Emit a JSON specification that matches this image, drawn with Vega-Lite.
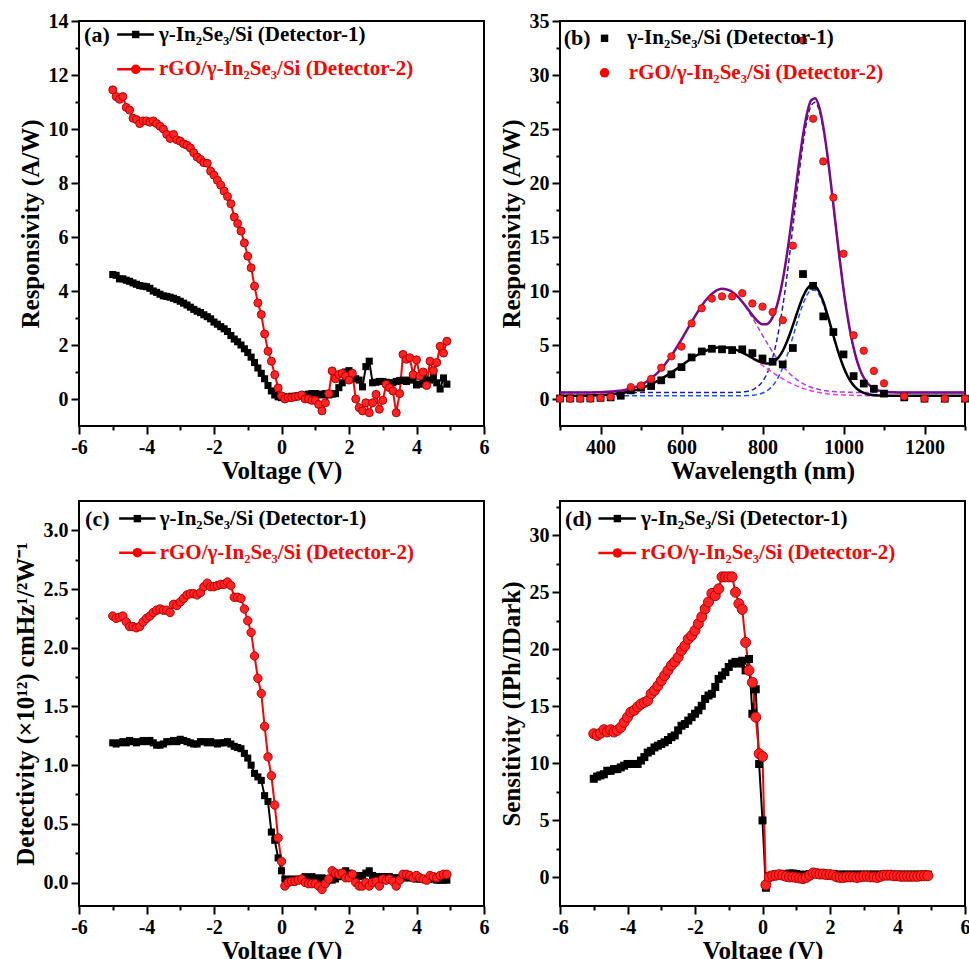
{
"$schema": "https://vega.github.io/schema/vega-lite/v6.json",
"background": "white",
"padding": {"left": 12, "top": 10, "right": 2, "bottom": 2},
"autosize": {"type": "pad"},
"bounds": "flush",
"columns": 2,
"spacing": {"row": 75, "column": 76},
"config": {
  "font": "Liberation Serif",
  "view": {"stroke": "black", "strokeWidth": 2},
  "axis": {"domain": false, "tickColor": "black", "tickWidth": 2, "tickSize": 8, "labelFont": "Liberation Serif", "labelFontSize": 20, "labelFontWeight": "bold", "labelColor": "black", "titleFont": "Liberation Serif", "titleFontSize": 25, "titleFontWeight": "bold", "titleColor": "black", "grid": false, "labelPadding": 3, "titlePadding": 5, "labelFlush": false, "labelOverlap": false},
  "axisBottom": {"titlePadding": 1},
  "style": {"guide-label": {"font": "Liberation Serif", "fontSize": 20, "fontWeight": "bold", "fill": "black"}, "guide-title": {"font": "Liberation Serif", "fontSize": 25, "fontWeight": "bold", "fill": "black"}},
  "text": {"font": "Liberation Serif", "fontWeight": "bold"}
},
"datasets": {
"v": [
{"V":-5.0,"a1":4.61,"a2":11.45,"c1":1.19,"c2":2.27,"d1":8.65,"d2":12.6},
{"V":-4.9,"a1":4.58,"a2":11.2,"c1":1.18,"c2":2.25,"d1":8.85,"d2":12.45},
{"V":-4.8,"a1":4.45,"a2":11.1,"c1":1.19,"c2":2.26,"d1":8.95,"d2":12.65},
{"V":-4.7,"a1":4.45,"a2":11.2,"c1":1.2,"c2":2.27,"d1":9.05,"d2":12.95},
{"V":-4.6,"a1":4.4,"a2":10.8,"c1":1.19,"c2":2.22,"d1":9.35,"d2":12.75},
{"V":-4.5,"a1":4.36,"a2":10.7,"c1":1.21,"c2":2.18,"d1":9.35,"d2":12.95},
{"V":-4.4,"a1":4.3,"a2":10.4,"c1":1.2,"c2":2.18,"d1":9.5,"d2":12.75},
{"V":-4.3,"a1":4.25,"a2":10.35,"c1":1.19,"c2":2.17,"d1":9.5,"d2":12.9},
{"V":-4.2,"a1":4.2,"a2":10.2,"c1":1.2,"c2":2.18,"d1":9.65,"d2":13.15},
{"V":-4.1,"a1":4.18,"a2":10.3,"c1":1.21,"c2":2.22,"d1":9.8,"d2":13.6},
{"V":-4.0,"a1":4.16,"a2":10.3,"c1":1.2,"c2":2.25,"d1":9.95,"d2":14.05},
{"V":-3.9,"a1":4.1,"a2":10.25,"c1":1.21,"c2":2.27,"d1":9.95,"d2":14.5},
{"V":-3.8,"a1":4.0,"a2":10.3,"c1":1.19,"c2":2.3,"d1":9.95,"d2":14.65},
{"V":-3.7,"a1":3.95,"a2":10.2,"c1":1.17,"c2":2.32,"d1":9.95,"d2":14.95},
{"V":-3.6,"a1":3.88,"a2":10.1,"c1":1.17,"c2":2.33,"d1":10.25,"d2":15.2},
{"V":-3.5,"a1":3.82,"a2":10.0,"c1":1.18,"c2":2.32,"d1":10.55,"d2":15.35},
{"V":-3.4,"a1":3.8,"a2":9.8,"c1":1.2,"c2":2.32,"d1":10.95,"d2":15.5},
{"V":-3.3,"a1":3.77,"a2":9.65,"c1":1.2,"c2":2.3,"d1":11.1,"d2":16.1},
{"V":-3.2,"a1":3.73,"a2":9.8,"c1":1.21,"c2":2.37,"d1":11.4,"d2":16.4},
{"V":-3.1,"a1":3.68,"a2":9.6,"c1":1.2,"c2":2.36,"d1":11.55,"d2":16.8},
{"V":-3.0,"a1":3.62,"a2":9.55,"c1":1.22,"c2":2.39,"d1":11.7,"d2":17.25},
{"V":-2.9,"a1":3.55,"a2":9.45,"c1":1.21,"c2":2.42,"d1":11.85,"d2":17.7},
{"V":-2.8,"a1":3.48,"a2":9.4,"c1":1.2,"c2":2.45,"d1":12.05,"d2":18.15},
{"V":-2.7,"a1":3.4,"a2":9.3,"c1":1.19,"c2":2.46,"d1":12.3,"d2":18.6},
{"V":-2.6,"a1":3.32,"a2":9.12,"c1":1.18,"c2":2.46,"d1":12.45,"d2":18.9},
{"V":-2.5,"a1":3.25,"a2":8.96,"c1":1.18,"c2":2.45,"d1":12.9,"d2":19.3},
{"V":-2.4,"a1":3.2,"a2":8.87,"c1":1.2,"c2":2.47,"d1":13.3,"d2":19.9},
{"V":-2.3,"a1":3.12,"a2":8.75,"c1":1.2,"c2":2.52,"d1":13.45,"d2":20.3},
{"V":-2.2,"a1":3.05,"a2":8.73,"c1":1.19,"c2":2.55,"d1":13.75,"d2":20.9},
{"V":-2.1,"a1":2.97,"a2":8.44,"c1":1.2,"c2":2.52,"d1":14.05,"d2":21.2},
{"V":-2.0,"a1":2.85,"a2":8.29,"c1":1.19,"c2":2.52,"d1":14.35,"d2":21.65},
{"V":-1.9,"a1":2.77,"a2":8.1,"c1":1.18,"c2":2.53,"d1":14.65,"d2":22.25},
{"V":-1.8,"a1":2.68,"a2":7.92,"c1":1.19,"c2":2.54,"d1":15.05,"d2":22.85},
{"V":-1.7,"a1":2.6,"a2":7.7,"c1":1.19,"c2":2.54,"d1":15.65,"d2":23.55},
{"V":-1.6,"a1":2.5,"a2":7.5,"c1":1.2,"c2":2.56,"d1":15.95,"d2":24.15},
{"V":-1.5,"a1":2.35,"a2":7.23,"c1":1.18,"c2":2.53,"d1":16.1,"d2":24.9},
{"V":-1.4,"a1":2.22,"a2":6.74,"c1":1.16,"c2":2.43,"d1":16.7,"d2":24.7},
{"V":-1.3,"a1":2.12,"a2":6.5,"c1":1.15,"c2":2.43,"d1":17.4,"d2":25.3},
{"V":-1.2,"a1":2.0,"a2":6.22,"c1":1.14,"c2":2.42,"d1":17.7,"d2":26.35},
{"V":-1.1,"a1":1.86,"a2":5.78,"c1":1.1,"c2":2.33,"d1":18.0,"d2":26.35},
{"V":-1.0,"a1":1.72,"a2":5.29,"c1":1.06,"c2":2.23,"d1":18.45,"d2":26.35},
{"V":-0.9,"a1":1.55,"a2":4.86,"c1":1.0,"c2":2.13,"d1":18.75,"d2":26.35},
{"V":-0.8,"a1":1.35,"a2":4.18,"c1":0.93,"c2":1.93,"d1":18.9,"d2":25.0},
{"V":-0.7,"a1":1.15,"a2":3.56,"c1":0.9,"c2":1.74,"d1":18.75,"d2":24.0},
{"V":-0.6,"a1":0.95,"a2":3.13,"c1":0.87,"c2":1.61,"d1":19.0,"d2":23.5},
{"V":-0.5,"a1":0.75,"a2":2.41,"c1":0.74,"c2":1.33,"d1":18.15,"d2":20.6},
{"V":-0.4,"a1":0.5,"a2":1.77,"c1":0.69,"c2":1.07,"d1":19.15,"d2":18.15},
{"V":-0.3,"a1":0.3,"a2":1.4,"c1":0.43,"c2":0.91,"d1":14.35,"d2":17.1},
{"V":-0.2,"a1":0.15,"a2":0.9,"c1":0.36,"c2":0.66,"d1":16.5,"d2":14.05},
{"V":-0.1,"a1":0.08,"a2":0.41,"c1":0.21,"c2":0.38,"d1":9.95,"d2":10.85},
{"V":0.0,"a1":0.05,"a2":0.12,"c1":0.1,"c2":0.18,"d1":5.0,"d2":10.6},
{"V":0.1,"a1":0.05,"a2":0.0,"c1":0.03,"c2":-0.03,"d1":-0.9,"d2":-0.65},
{"V":0.2,"a1":0.08,"a2":0.05,"c1":0.02,"c2":0.0,"d1":0.1,"d2":0.05},
{"V":0.3,"a1":0.1,"a2":0.05,"c1":0.03,"c2":0.01,"d1":0.2,"d2":0.15},
{"V":0.4,"a1":0.1,"a2":0.08,"c1":0.02,"c2":0.01,"d1":0.25,"d2":0.2},
{"V":0.5,"a1":0.12,"a2":0.1,"c1":0.03,"c2":0.02,"d1":0.3,"d2":0.25},
{"V":0.6,"a1":0.12,"a2":0.15,"c1":0.02,"c2":0.03,"d1":0.3,"d2":0.2},
{"V":0.7,"a1":0.15,"a2":0.0,"c1":0.05,"c2":0.0,"d1":0.3,"d2":0.1},
{"V":0.8,"a1":0.18,"a2":0.0,"c1":0.04,"c2":-0.01,"d1":0.35,"d2":0.05},
{"V":0.9,"a1":0.2,"a2":-0.05,"c1":0.05,"c2":-0.01,"d1":0.35,"d2":0.05},
{"V":1.0,"a1":0.2,"a2":-0.05,"c1":0.04,"c2":-0.01,"d1":0.3,"d2":0.0},
{"V":1.1,"a1":0.18,"a2":-0.2,"c1":0.03,"c2":-0.03,"d1":0.25,"d2":-0.05},
{"V":1.2,"a1":0.15,"a2":-0.44,"c1":0.04,"c2":-0.06,"d1":0.2,"d2":-0.1},
{"V":1.3,"a1":0.2,"a2":-0.14,"c1":0.03,"c2":-0.01,"d1":0.25,"d2":0.0},
{"V":1.4,"a1":0.15,"a2":0.2,"c1":0.03,"c2":0.03,"d1":0.3,"d2":0.2},
{"V":1.5,"a1":0.18,"a2":1.04,"c1":0.02,"c2":0.1,"d1":0.3,"d2":0.4},
{"V":1.6,"a1":0.2,"a2":0.75,"c1":0.03,"c2":0.08,"d1":0.3,"d2":0.35},
{"V":1.7,"a1":0.42,"a2":0.91,"c1":0.05,"c2":0.07,"d1":0.3,"d2":0.3},
{"V":1.8,"a1":0.6,"a2":0.95,"c1":0.08,"c2":0.08,"d1":0.3,"d2":0.3},
{"V":1.9,"a1":1.0,"a2":0.85,"c1":0.1,"c2":0.04,"d1":0.3,"d2":0.25},
{"V":2.0,"a1":1.05,"a2":0.7,"c1":0.08,"c2":0.04,"d1":0.3,"d2":0.25},
{"V":2.1,"a1":0.9,"a2":0.95,"c1":0.07,"c2":0.07,"d1":0.3,"d2":0.2},
{"V":2.2,"a1":0.75,"a2":0.0,"c1":0.06,"c2":0.0,"d1":0.25,"d2":0.05},
{"V":2.3,"a1":0.7,"a2":-0.32,"c1":0.05,"c2":-0.03,"d1":0.25,"d2":0.0},
{"V":2.4,"a1":0.45,"a2":-0.44,"c1":0.06,"c2":-0.03,"d1":0.25,"d2":0.0},
{"V":2.5,"a1":1.2,"a2":-0.14,"c1":0.08,"c2":0.0,"d1":0.25,"d2":0.05},
{"V":2.6,"a1":1.4,"a2":-0.51,"c1":0.1,"c2":-0.03,"d1":0.25,"d2":0.05},
{"V":2.7,"a1":0.6,"a2":-0.14,"c1":0.06,"c2":0.0,"d1":0.25,"d2":0.05},
{"V":2.8,"a1":0.62,"a2":0.17,"c1":0.05,"c2":0.01,"d1":0.25,"d2":0.0},
{"V":2.9,"a1":0.65,"a2":-0.38,"c1":0.05,"c2":-0.03,"d1":0.25,"d2":0.05},
{"V":3.0,"a1":0.65,"a2":-0.05,"c1":0.05,"c2":0.03,"d1":0.25,"d2":0.1},
{"V":3.1,"a1":0.62,"a2":0.54,"c1":0.05,"c2":0.02,"d1":0.25,"d2":0.1},
{"V":3.2,"a1":0.6,"a2":0.42,"c1":0.05,"c2":0.03,"d1":0.25,"d2":0.05},
{"V":3.3,"a1":0.6,"a2":0.3,"c1":0.04,"c2":0.01,"d1":0.25,"d2":0.05},
{"V":3.4,"a1":0.65,"a2":-0.51,"c1":0.04,"c2":-0.03,"d1":0.25,"d2":0.0},
{"V":3.5,"a1":0.68,"a2":0.2,"c1":0.04,"c2":0.02,"d1":0.25,"d2":0.1},
{"V":3.6,"a1":0.7,"a2":1.65,"c1":0.04,"c2":0.07,"d1":0.25,"d2":0.2},
{"V":3.7,"a1":0.65,"a2":1.47,"c1":0.04,"c2":0.07,"d1":0.25,"d2":0.2},
{"V":3.8,"a1":0.7,"a2":1.53,"c1":0.04,"c2":0.06,"d1":0.25,"d2":0.2},
{"V":3.9,"a1":0.72,"a2":0.9,"c1":0.04,"c2":0.04,"d1":0.25,"d2":0.15},
{"V":4.0,"a1":0.52,"a2":1.45,"c1":0.03,"c2":0.06,"d1":0.25,"d2":0.15},
{"V":4.1,"a1":0.55,"a2":0.85,"c1":0.03,"c2":0.04,"d1":0.25,"d2":0.1},
{"V":4.2,"a1":0.78,"a2":1.0,"c1":0.03,"c2":0.03,"d1":0.25,"d2":0.1},
{"V":4.3,"a1":0.65,"a2":0.5,"c1":0.03,"c2":0.02,"d1":0.25,"d2":0.1},
{"V":4.4,"a1":0.7,"a2":1.4,"c1":0.03,"c2":0.06,"d1":0.25,"d2":0.1},
{"V":4.5,"a1":0.8,"a2":1.05,"c1":0.03,"c2":0.05,"d1":0.25,"d2":0.1},
{"V":4.6,"a1":0.6,"a2":1.35,"c1":0.02,"c2":0.04,"d1":0.25,"d2":0.1},
{"V":4.7,"a1":0.37,"a2":1.95,"c1":0.02,"c2":0.06,"d1":0.25,"d2":0.15},
{"V":4.8,"a1":0.78,"a2":1.7,"c1":0.02,"c2":0.07,"d1":0.25,"d2":0.15},
{"V":4.9,"a1":0.55,"a2":2.14,"c1":0.02,"c2":0.07,"d1":0.25,"d2":0.15}
],
"b": [
{"nm":300,"r":0.03,"k":0.05},{"nm":325,"r":0.03,"k":0.05},{"nm":350,"r":0.03,"k":0.05},{"nm":375,"r":0.05,"k":0.05},
{"nm":400,"r":0.1,"k":0.1},{"nm":425,"r":0.2,"k":0.15},{"nm":450,"r":null,"k":0.3},{"nm":475,"r":1.1,"k":0.8},
{"nm":500,"r":1.25,"k":1.05},{"nm":525,"r":1.85,"k":1.2},{"nm":550,"r":2.9,"k":1.73},{"nm":575,"r":3.95,"k":2.28},
{"nm":600,"r":4.85,"k":2.95},{"nm":625,"r":7.0,"k":3.85},{"nm":650,"r":8.4,"k":4.4},{"nm":675,"r":9.3,"k":4.65},
{"nm":700,"r":9.5,"k":4.6},{"nm":725,"r":9.5,"k":4.53},{"nm":750,"r":9.8,"k":4.6},{"nm":775,"r":8.85,"k":4.25},
{"nm":800,"r":8.55,"k":3.75},{"nm":825,"r":8.05,"k":3.45},{"nm":850,"r":7.3,"k":3.2},{"nm":875,"r":14.2,"k":4.72},
{"nm":900,"r":33.2,"k":11.57},{"nm":925,"r":25.95,"k":10.48},{"nm":950,"r":22.0,"k":7.65},{"nm":975,"r":18.65,"k":6.2},
{"nm":1000,"r":13.45,"k":4.13},{"nm":1025,"r":5.9,"k":2.12},{"nm":1050,"r":4.47,"k":1.43},{"nm":1075,"r":2.59,"k":0.95},
{"nm":1100,"r":1.45,"k":0.5},{"nm":1150,"r":0.25,"k":0.15},{"nm":1200,"r":0.05,"k":0.03},{"nm":1250,"r":0.05,"k":0.03},{"nm":1300,"r":0.05,"k":0.03}
],
"fit": [
{"x":300,"fr":0.60,"fb":0.30,"d1r":0.60,"d2r":0.60,"d1b":0.30,"d2b":0.30},
{"x":350,"fr":0.60,"fb":0.31,"d1r":0.60,"d2r":0.60,"d1b":0.31,"d2b":0.30},
{"x":400,"fr":0.63,"fb":0.37,"d1r":0.63,"d2r":0.60,"d1b":0.37,"d2b":0.30},
{"x":430,"fr":0.69,"fb":0.45,"d1r":0.69,"d2r":0.60,"d1b":0.45,"d2b":0.30},
{"x":460,"fr":0.83,"fb":0.60,"d1r":0.83,"d2r":0.60,"d1b":0.60,"d2b":0.30},
{"x":480,"fr":1.02,"fb":0.76,"d1r":1.02,"d2r":0.60,"d1b":0.76,"d2b":0.30},
{"x":500,"fr":1.31,"fb":0.98,"d1r":1.31,"d2r":0.60,"d1b":0.98,"d2b":0.30},
{"x":520,"fr":1.76,"fb":1.28,"d1r":1.76,"d2r":0.60,"d1b":1.28,"d2b":0.30},
{"x":540,"fr":2.39,"fb":1.65,"d1r":2.39,"d2r":0.60,"d1b":1.65,"d2b":0.30},
{"x":560,"fr":3.24,"fb":2.09,"d1r":3.24,"d2r":0.60,"d1b":2.09,"d2b":0.30},
{"x":580,"fr":4.29,"fb":2.58,"d1r":4.29,"d2r":0.60,"d1b":2.58,"d2b":0.30},
{"x":600,"fr":5.51,"fb":3.11,"d1r":5.51,"d2r":0.60,"d1b":3.11,"d2b":0.30},
{"x":620,"fr":6.81,"fb":3.63,"d1r":6.81,"d2r":0.60,"d1b":3.63,"d2b":0.30},
{"x":640,"fr":8.07,"fb":4.10,"d1r":8.07,"d2r":0.60,"d1b":4.10,"d2b":0.30},
{"x":660,"fr":9.14,"fb":4.47,"d1r":9.14,"d2r":0.60,"d1b":4.47,"d2b":0.30},
{"x":680,"fr":9.89,"fb":4.72,"d1r":9.89,"d2r":0.60,"d1b":4.72,"d2b":0.30},
{"x":700,"fr":10.20,"fb":4.80,"d1r":10.19,"d2r":0.60,"d1b":4.80,"d2b":0.30},
{"x":720,"fr":10.03,"fb":4.72,"d1r":10.03,"d2r":0.61,"d1b":4.72,"d2b":0.30},
{"x":740,"fr":9.43,"fb":4.48,"d1r":9.41,"d2r":0.62,"d1b":4.47,"d2b":0.30},
{"x":760,"fr":8.52,"fb":4.11,"d1r":8.42,"d2r":0.70,"d1b":4.10,"d2b":0.32},
{"x":780,"fr":7.54,"fb":3.70,"d1r":7.20,"d2r":0.94,"d1b":3.63,"d2b":0.37},
{"x":800,"fr":6.92,"fb":3.35,"d1r":5.90,"d2r":1.62,"d1b":3.11,"d2b":0.55},
{"x":810,"fr":6.92,"fb":3.28,"d1r":5.26,"d2r":2.26,"d1b":2.84,"d2b":0.73},
{"x":820,"fr":7.25,"fb":3.31,"d1r":4.65,"d2r":3.21,"d1b":2.58,"d2b":1.03},
{"x":830,"fr":8.01,"fb":3.50,"d1r":4.07,"d2r":4.54,"d1b":2.33,"d2b":1.47},
{"x":840,"fr":9.25,"fb":3.87,"d1r":3.54,"d2r":6.32,"d1b":2.09,"d2b":2.09},
{"x":850,"fr":11.02,"fb":4.46,"d1r":3.05,"d2r":8.57,"d1b":1.86,"d2b":2.91},
{"x":860,"fr":13.30,"fb":5.27,"d1r":2.63,"d2r":11.27,"d1b":1.65,"d2b":3.93},
{"x":870,"fr":15.98,"fb":6.27,"d1r":2.25,"d2r":14.33,"d1b":1.45,"d2b":5.12},
{"x":880,"fr":18.90,"fb":7.38,"d1r":1.93,"d2r":17.57,"d1b":1.28,"d2b":6.40},
{"x":890,"fr":21.81,"fb":8.49,"d1r":1.66,"d2r":20.75,"d1b":1.12,"d2b":7.67},
{"x":900,"fr":24.43,"fb":9.47,"d1r":1.43,"d2r":23.60,"d1b":0.98,"d2b":8.79},
{"x":910,"fr":26.45,"fb":10.19,"d1r":1.24,"d2r":25.81,"d1b":0.86,"d2b":9.63},
{"x":920,"fr":27.65,"fb":10.54,"d1r":1.09,"d2r":27.16,"d1b":0.76,"d2b":10.08},
{"x":930,"fr":27.85,"fb":10.45,"d1r":0.97,"d2r":27.48,"d1b":0.67,"d2b":10.08},
{"x":940,"fr":27.02,"fb":9.93,"d1r":0.88,"d2r":26.74,"d1b":0.60,"d2b":9.63},
{"x":950,"fr":25.22,"fb":9.03,"d1r":0.80,"d2r":25.02,"d1b":0.54,"d2b":8.79},
{"x":960,"fr":22.67,"fb":7.85,"d1r":0.75,"d2r":22.52,"d1b":0.49,"d2b":7.67},
{"x":970,"fr":19.61,"fb":6.54,"d1r":0.71,"d2r":19.50,"d1b":0.45,"d2b":6.40},
{"x":980,"fr":16.34,"fb":5.23,"d1r":0.68,"d2r":16.26,"d1b":0.41,"d2b":5.12},
{"x":990,"fr":13.12,"fb":4.01,"d1r":0.65,"d2r":13.07,"d1b":0.39,"d2b":3.93},
{"x":1000,"fr":10.18,"fb":2.97,"d1r":0.64,"d2r":10.14,"d1b":0.37,"d2b":2.91},
{"x":1010,"fr":7.64,"fb":2.13,"d1r":0.63,"d2r":7.61,"d1b":0.35,"d2b":2.09},
{"x":1020,"fr":5.57,"fb":1.50,"d1r":0.62,"d2r":5.55,"d1b":0.34,"d2b":1.47},
{"x":1030,"fr":3.97,"fb":1.05,"d1r":0.61,"d2r":3.96,"d1b":0.33,"d2b":1.03},
{"x":1040,"fr":2.79,"fb":0.75,"d1r":0.61,"d2r":2.79,"d1b":0.32,"d2b":0.73},
{"x":1050,"fr":1.98,"fb":0.56,"d1r":0.61,"d2r":1.97,"d1b":0.31,"d2b":0.55},
{"x":1060,"fr":1.43,"fb":0.44,"d1r":0.60,"d2r":1.43,"d1b":0.31,"d2b":0.43},
{"x":1070,"fr":1.08,"fb":0.38,"d1r":0.60,"d2r":1.08,"d1b":0.31,"d2b":0.37},
{"x":1080,"fr":0.87,"fb":0.34,"d1r":0.60,"d2r":0.87,"d1b":0.30,"d2b":0.33},
{"x":1100,"fr":0.67,"fb":0.31,"d1r":0.60,"d2r":0.67,"d1b":0.30,"d2b":0.31},
{"x":1120,"fr":0.62,"fb":0.30,"d1r":0.60,"d2r":0.62,"d1b":0.30,"d2b":0.30},
{"x":1150,"fr":0.60,"fb":0.30,"d1r":0.60,"d2r":0.60,"d1b":0.30,"d2b":0.30},
{"x":1200,"fr":0.60,"fb":0.30,"d1r":0.60,"d2r":0.60,"d1b":0.30,"d2b":0.30},
{"x":1300,"fr":0.60,"fb":0.30,"d1r":0.60,"d2r":0.60,"d1b":0.30,"d2b":0.30}
]
},
"concat": [
{
 "width": 405, "height": 405,
 "data": {"name": "v"},
 "resolve": {"axis": {"x": "independent", "y": "independent"}},
 "layer": [
  {"mark": {"type": "line", "color": "black", "strokeWidth": 2},
   "encoding": {
    "x": {"field": "V", "type": "quantitative", "scale": {"domain": [-6, 6], "nice": false, "zero": false}, "axis": {"orient": "bottom", "values": [-6,-4,-2,0,2,4,6], "labelExpr": "replace(datum.label, '−', '-')", "labelFont": "Liberation Serif", "labelFontSize": 20, "labelFontWeight": "bold", "labelColor": "black", "title": "Voltage (V)"}},
    "y": {"field": "a1", "type": "quantitative", "scale": {"domain": [-1, 14], "nice": false, "zero": false}, "axis": {"orient": "left", "values": [0,2,4,6,8,10,12,14], "labelFont": "Liberation Serif", "labelFontSize": 20, "labelFontWeight": "bold", "labelColor": "black", "title": "Responsivity (A/W)"}}}},
  {"mark": {"type": "line", "color": "#ff0000", "strokeWidth": 2},
   "encoding": {
    "x": {"field": "V", "type": "quantitative", "axis": {"orient": "bottom", "values": [-5,-3,-1,1,3,5], "labels": false, "tickSize": 4, "title": null}},
    "y": {"field": "a2", "type": "quantitative", "axis": {"orient": "left", "values": [1,3,5,7,9,11,13], "labels": false, "tickSize": 4, "title": null}}}},
  {"mark": {"type": "point", "shape": "square", "filled": true, "color": "black", "size": 50, "opacity": 1},
   "encoding": {"x": {"field": "V", "type": "quantitative", "axis": null}, "y": {"field": "a1", "type": "quantitative", "axis": null}}},
  {"mark": {"type": "point", "shape": "circle", "filled": true, "fill": "#ff2424", "stroke": "#b80000", "strokeWidth": 1, "size": 64, "opacity": 1},
   "encoding": {"x": {"field": "V", "type": "quantitative", "axis": null}, "y": {"field": "a2", "type": "quantitative", "axis": null}}},
  {"data": {"values": [{"x1": -4.87, "x2": -3.78, "y": 13.5, "s": "k"}, {"x1": -4.87, "x2": -3.78, "y": 12.21, "s": "r"}]},
   "mark": {"type": "rule", "strokeWidth": 2.5},
   "encoding": {"x": {"field": "x1", "type": "quantitative", "axis": null}, "x2": {"field": "x2"}, "y": {"field": "y", "type": "quantitative", "axis": null},
    "color": {"field": "s", "type": "nominal", "scale": {"domain": ["k", "r"], "range": ["black", "#ff0000"]}, "legend": null}}},
  {"data": {"values": [{"x": -4.32, "y": 13.5, "s": "k"}, {"x": -4.32, "y": 12.21, "s": "r"}]},
   "mark": {"type": "point", "filled": true, "opacity": 1},
   "encoding": {"x": {"field": "x", "type": "quantitative", "axis": null}, "y": {"field": "y", "type": "quantitative", "axis": null},
    "color": {"field": "s", "type": "nominal", "scale": {"domain": ["k", "r"], "range": ["black", "#ff0000"]}, "legend": null},
    "shape": {"field": "s", "type": "nominal", "scale": {"domain": ["k", "r"], "range": ["square", "circle"]}, "legend": null},
    "size": {"field": "s", "type": "nominal", "scale": {"domain": ["k", "r"], "range": [55, 90]}, "legend": null}}},
  {"data": {"values": [{"x": -3.63, "y": 13.5, "s": "k", "t": "γ-In₂Se₃/Si (Detector-1)"}, {"x": -3.63, "y": 12.21, "s": "r", "t": "rGO/γ-In₂Se₃/Si (Detector-2)"}]},
   "mark": {"type": "text", "align": "left", "baseline": "middle", "fontSize": 21, "fontWeight": "bold"},
   "encoding": {"x": {"field": "x", "type": "quantitative", "axis": null}, "y": {"field": "y", "type": "quantitative", "axis": null}, "text": {"field": "t"},
    "color": {"field": "s", "type": "nominal", "scale": {"domain": ["k", "r"], "range": ["black", "#ff0000"]}, "legend": null}}},
  {"data": {"values": [{"x": -5.85, "y": 13.5, "t": "(a)"}]},
   "mark": {"type": "text", "align": "left", "baseline": "middle", "fontSize": 22, "fontWeight": "bold", "color": "black"},
   "encoding": {"x": {"field": "x", "type": "quantitative", "axis": null}, "y": {"field": "y", "type": "quantitative", "axis": null}, "text": {"field": "t"}}}
 ]
},
{
 "width": 405, "height": 405,
 "data": {"name": "fit"},
 "resolve": {"axis": {"x": "independent", "y": "independent"}},
 "layer": [
  {"mark": {"type": "line", "color": "#a040ff", "strokeWidth": 1.5, "strokeDash": [5, 3], "interpolate": "monotone"},
   "encoding": {
    "x": {"field": "x", "type": "quantitative", "scale": {"domain": [300, 1300], "nice": false, "zero": false}, "axis": {"orient": "bottom", "values": [400,600,800,1000,1200], "format": "d", "labelFont": "Liberation Serif", "labelFontSize": 20, "labelFontWeight": "bold", "labelColor": "black", "title": "Wavelength (nm)"}},
    "y": {"field": "d1r", "type": "quantitative", "scale": {"domain": [-2.5, 35], "nice": false, "zero": false}, "axis": {"orient": "left", "values": [0,5,10,15,20,25,30,35], "labelFont": "Liberation Serif", "labelFontSize": 20, "labelFontWeight": "bold", "labelColor": "black", "title": "Responsivity (A/W)"}}}},
  {"mark": {"type": "line", "color": "#2020a8", "strokeWidth": 1.5, "strokeDash": [5, 3], "interpolate": "monotone"},
   "encoding": {
    "x": {"field": "x", "type": "quantitative", "axis": {"orient": "bottom", "values": [300,500,700,900,1100,1300], "labels": false, "tickSize": 4, "title": null}},
    "y": {"field": "d2r", "type": "quantitative", "axis": {"orient": "left", "values": [2.5,7.5,12.5,17.5,22.5,27.5,32.5], "labels": false, "tickSize": 4, "title": null}}}},
  {"mark": {"type": "line", "color": "#ff30ff", "strokeWidth": 1.5, "strokeDash": [5, 3], "interpolate": "monotone"},
   "encoding": {"x": {"field": "x", "type": "quantitative", "axis": null}, "y": {"field": "d1b", "type": "quantitative", "axis": null}}},
  {"mark": {"type": "line", "color": "#2050ff", "strokeWidth": 1.5, "strokeDash": [5, 3], "interpolate": "monotone"},
   "encoding": {"x": {"field": "x", "type": "quantitative", "axis": null}, "y": {"field": "d2b", "type": "quantitative", "axis": null}}},
  {"mark": {"type": "line", "color": "black", "strokeWidth": 2.5, "interpolate": "monotone"},
   "encoding": {"x": {"field": "x", "type": "quantitative", "axis": null}, "y": {"field": "fb", "type": "quantitative", "axis": null}}},
  {"mark": {"type": "line", "color": "#7a0a8a", "strokeWidth": 2.5, "interpolate": "monotone"},
   "encoding": {"x": {"field": "x", "type": "quantitative", "axis": null}, "y": {"field": "fr", "type": "quantitative", "axis": null}}},
  {"data": {"name": "b"},
   "mark": {"type": "point", "shape": "square", "filled": true, "color": "black", "size": 60, "opacity": 1},
   "encoding": {"x": {"field": "nm", "type": "quantitative", "axis": null}, "y": {"field": "k", "type": "quantitative", "axis": null}}},
  {"data": {"name": "b"},
   "mark": {"type": "point", "shape": "circle", "filled": true, "fill": "#ff2424", "stroke": "#c00000", "strokeWidth": 0.8, "size": 55, "opacity": 1},
   "encoding": {"x": {"field": "nm", "type": "quantitative", "axis": null}, "y": {"field": "r", "type": "quantitative", "axis": null}}},
  {"data": {"values": [{"x": 410, "y": 33.4, "s": "k"}, {"x": 410, "y": 30.2, "s": "r"}]},
   "mark": {"type": "point", "filled": true, "opacity": 1},
   "encoding": {"x": {"field": "x", "type": "quantitative", "axis": null}, "y": {"field": "y", "type": "quantitative", "axis": null},
    "color": {"field": "s", "type": "nominal", "scale": {"domain": ["k", "r"], "range": ["black", "#ff0000"]}, "legend": null},
    "shape": {"field": "s", "type": "nominal", "scale": {"domain": ["k", "r"], "range": ["square", "circle"]}, "legend": null},
    "size": {"field": "s", "type": "nominal", "scale": {"domain": ["k", "r"], "range": [55, 55]}, "legend": null}}},
  {"data": {"values": [{"x": 466, "y": 33.4, "s": "k", "t": "γ-In₂Se₃/Si (Detector-1)"}, {"x": 470, "y": 30.2, "s": "r", "t": "rGO/γ-In₂Se₃/Si (Detector-2)"}]},
   "mark": {"type": "text", "align": "left", "baseline": "middle", "fontSize": 21, "fontWeight": "bold"},
   "encoding": {"x": {"field": "x", "type": "quantitative", "axis": null}, "y": {"field": "y", "type": "quantitative", "axis": null}, "text": {"field": "t"},
    "color": {"field": "s", "type": "nominal", "scale": {"domain": ["k", "r"], "range": ["black", "#ff0000"]}, "legend": null}}},
  {"data": {"values": [{"x": 309, "y": 33.4, "t": "(b)"}]},
   "mark": {"type": "text", "align": "left", "baseline": "middle", "fontSize": 22, "fontWeight": "bold", "color": "black"},
   "encoding": {"x": {"field": "x", "type": "quantitative", "axis": null}, "y": {"field": "y", "type": "quantitative", "axis": null}, "text": {"field": "t"}}}
 ]
},
{
 "width": 405, "height": 405,
 "data": {"name": "v"},
 "resolve": {"axis": {"x": "independent", "y": "independent"}},
 "layer": [
  {"mark": {"type": "line", "color": "black", "strokeWidth": 2},
   "encoding": {
    "x": {"field": "V", "type": "quantitative", "scale": {"domain": [-6, 6], "nice": false, "zero": false}, "axis": {"orient": "bottom", "values": [-6,-4,-2,0,2,4,6], "labelExpr": "replace(datum.label, '−', '-')", "labelFont": "Liberation Serif", "labelFontSize": 20, "labelFontWeight": "bold", "labelColor": "black", "title": "Voltage (V)"}},
    "y": {"field": "c1", "type": "quantitative", "scale": {"domain": [-0.2, 3.25], "nice": false, "zero": false}, "axis": {"orient": "left", "values": [0,0.5,1,1.5,2,2.5,3], "format": ".1f", "labelFont": "Liberation Serif", "labelFontSize": 20, "labelFontWeight": "bold", "labelColor": "black", "title": "Detectivity (×10¹²) cmHz¹/²W⁻¹"}}}},
  {"mark": {"type": "line", "color": "#ff0000", "strokeWidth": 2},
   "encoding": {
    "x": {"field": "V", "type": "quantitative", "axis": {"orient": "bottom", "values": [-5,-3,-1,1,3,5], "labels": false, "tickSize": 4, "title": null}},
    "y": {"field": "c2", "type": "quantitative", "axis": {"orient": "left", "values": [0.25,0.75,1.25,1.75,2.25,2.75], "labels": false, "tickSize": 4, "title": null}}}},
  {"mark": {"type": "point", "shape": "square", "filled": true, "color": "black", "size": 50, "opacity": 1},
   "encoding": {"x": {"field": "V", "type": "quantitative", "axis": null}, "y": {"field": "c1", "type": "quantitative", "axis": null}}},
  {"mark": {"type": "point", "shape": "circle", "filled": true, "fill": "#ff2424", "stroke": "#b80000", "strokeWidth": 1, "size": 70, "opacity": 1},
   "encoding": {"x": {"field": "V", "type": "quantitative", "axis": null}, "y": {"field": "c2", "type": "quantitative", "axis": null}}},
  {"data": {"values": [{"x1": -4.81, "x2": -3.73, "y": 3.1, "s": "k"}, {"x1": -4.81, "x2": -3.73, "y": 2.81, "s": "r"}]},
   "mark": {"type": "rule", "strokeWidth": 2.5},
   "encoding": {"x": {"field": "x1", "type": "quantitative", "axis": null}, "x2": {"field": "x2"}, "y": {"field": "y", "type": "quantitative", "axis": null},
    "color": {"field": "s", "type": "nominal", "scale": {"domain": ["k", "r"], "range": ["black", "#ff0000"]}, "legend": null}}},
  {"data": {"values": [{"x": -4.27, "y": 3.1, "s": "k"}, {"x": -4.27, "y": 2.81, "s": "r"}]},
   "mark": {"type": "point", "filled": true, "opacity": 1},
   "encoding": {"x": {"field": "x", "type": "quantitative", "axis": null}, "y": {"field": "y", "type": "quantitative", "axis": null},
    "color": {"field": "s", "type": "nominal", "scale": {"domain": ["k", "r"], "range": ["black", "#ff0000"]}, "legend": null},
    "shape": {"field": "s", "type": "nominal", "scale": {"domain": ["k", "r"], "range": ["square", "circle"]}, "legend": null},
    "size": {"field": "s", "type": "nominal", "scale": {"domain": ["k", "r"], "range": [55, 100]}, "legend": null}}},
  {"data": {"values": [{"x": -3.61, "y": 3.1, "s": "k", "t": "γ-In₂Se₃/Si (Detector-1)"}, {"x": -3.61, "y": 2.81, "s": "r", "t": "rGO/γ-In₂Se₃/Si (Detector-2)"}]},
   "mark": {"type": "text", "align": "left", "baseline": "middle", "fontSize": 21, "fontWeight": "bold"},
   "encoding": {"x": {"field": "x", "type": "quantitative", "axis": null}, "y": {"field": "y", "type": "quantitative", "axis": null}, "text": {"field": "t"},
    "color": {"field": "s", "type": "nominal", "scale": {"domain": ["k", "r"], "range": ["black", "#ff0000"]}, "legend": null}}},
  {"data": {"values": [{"x": -5.82, "y": 3.1, "t": "(c)"}]},
   "mark": {"type": "text", "align": "left", "baseline": "middle", "fontSize": 22, "fontWeight": "bold", "color": "black"},
   "encoding": {"x": {"field": "x", "type": "quantitative", "axis": null}, "y": {"field": "y", "type": "quantitative", "axis": null}, "text": {"field": "t"}}}
 ]
},
{
 "width": 405, "height": 405,
 "data": {"name": "v"},
 "resolve": {"axis": {"x": "independent", "y": "independent"}},
 "layer": [
  {"mark": {"type": "line", "color": "black", "strokeWidth": 2},
   "encoding": {
    "x": {"field": "V", "type": "quantitative", "scale": {"domain": [-6, 6], "nice": false, "zero": false}, "axis": {"orient": "bottom", "values": [-6,-4,-2,0,2,4,6], "labelExpr": "replace(datum.label, '−', '-')", "labelFont": "Liberation Serif", "labelFontSize": 20, "labelFontWeight": "bold", "labelColor": "black", "title": "Voltage (V)"}},
    "y": {"field": "d1", "type": "quantitative", "scale": {"domain": [-2.5, 33], "nice": false, "zero": false}, "axis": {"orient": "left", "values": [0,5,10,15,20,25,30], "labelFont": "Liberation Serif", "labelFontSize": 20, "labelFontWeight": "bold", "labelColor": "black", "title": "Sensitivity (IPh/IDark)"}}}},
  {"mark": {"type": "line", "color": "#ff0000", "strokeWidth": 2},
   "encoding": {
    "x": {"field": "V", "type": "quantitative", "axis": {"orient": "bottom", "values": [-5,-3,-1,1,3,5], "labels": false, "tickSize": 4, "title": null}},
    "y": {"field": "d2", "type": "quantitative", "axis": {"orient": "left", "values": [2.5,7.5,12.5,17.5,22.5,27.5,32.5], "labels": false, "tickSize": 4, "title": null}}}},
  {"mark": {"type": "point", "shape": "square", "filled": true, "color": "black", "size": 64, "opacity": 1},
   "encoding": {"x": {"field": "V", "type": "quantitative", "axis": null}, "y": {"field": "d1", "type": "quantitative", "axis": null}}},
  {"mark": {"type": "point", "shape": "circle", "filled": true, "fill": "#ff2424", "stroke": "#b80000", "strokeWidth": 1, "size": 100, "opacity": 1},
   "encoding": {"x": {"field": "V", "type": "quantitative", "axis": null}, "y": {"field": "d2", "type": "quantitative", "axis": null}}},
  {"data": {"values": [{"x1": -4.86, "x2": -3.75, "y": 31.46, "s": "k"}, {"x1": -4.86, "x2": -3.75, "y": 28.45, "s": "r"}]},
   "mark": {"type": "rule", "strokeWidth": 2.5},
   "encoding": {"x": {"field": "x1", "type": "quantitative", "axis": null}, "x2": {"field": "x2"}, "y": {"field": "y", "type": "quantitative", "axis": null},
    "color": {"field": "s", "type": "nominal", "scale": {"domain": ["k", "r"], "range": ["black", "#ff0000"]}, "legend": null}}},
  {"data": {"values": [{"x": -4.3, "y": 31.46, "s": "k"}, {"x": -4.3, "y": 28.45, "s": "r"}]},
   "mark": {"type": "point", "filled": true, "opacity": 1},
   "encoding": {"x": {"field": "x", "type": "quantitative", "axis": null}, "y": {"field": "y", "type": "quantitative", "axis": null},
    "color": {"field": "s", "type": "nominal", "scale": {"domain": ["k", "r"], "range": ["black", "#ff0000"]}, "legend": null},
    "shape": {"field": "s", "type": "nominal", "scale": {"domain": ["k", "r"], "range": ["square", "circle"]}, "legend": null},
    "size": {"field": "s", "type": "nominal", "scale": {"domain": ["k", "r"], "range": [60, 130]}, "legend": null}}},
  {"data": {"values": [{"x": -3.6, "y": 31.46, "s": "k", "t": "γ-In₂Se₃/Si (Detector-1)"}, {"x": -3.6, "y": 28.45, "s": "r", "t": "rGO/γ-In₂Se₃/Si (Detector-2)"}]},
   "mark": {"type": "text", "align": "left", "baseline": "middle", "fontSize": 21, "fontWeight": "bold"},
   "encoding": {"x": {"field": "x", "type": "quantitative", "axis": null}, "y": {"field": "y", "type": "quantitative", "axis": null}, "text": {"field": "t"},
    "color": {"field": "s", "type": "nominal", "scale": {"domain": ["k", "r"], "range": ["black", "#ff0000"]}, "legend": null}}},
  {"data": {"values": [{"x": -5.85, "y": 31.46, "t": "(d)"}]},
   "mark": {"type": "text", "align": "left", "baseline": "middle", "fontSize": 22, "fontWeight": "bold", "color": "black"},
   "encoding": {"x": {"field": "x", "type": "quantitative", "axis": null}, "y": {"field": "y", "type": "quantitative", "axis": null}, "text": {"field": "t"}}}
 ]
}
]
}
